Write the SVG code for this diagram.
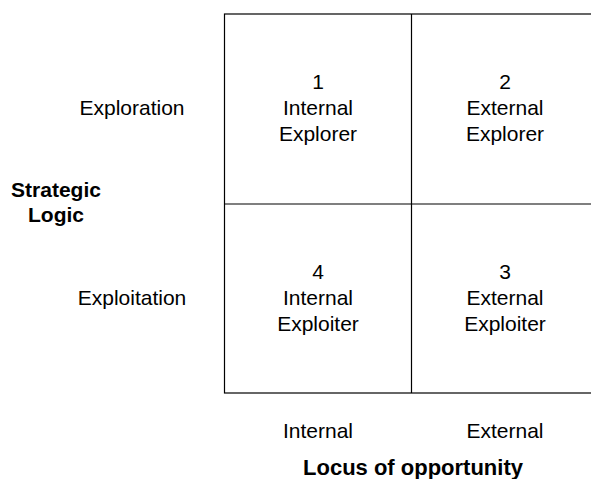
<svg xmlns="http://www.w3.org/2000/svg" width="591" height="479" viewBox="0 0 591 479">
<style>
text{font-family:"Liberation Sans",Arial,sans-serif;font-size:21px;fill:#000;text-anchor:middle}
.b{font-weight:bold}
.ln{stroke:#000;stroke-width:1.2;fill:none}
</style>
<rect width="591" height="479" fill="#fff"/>
<g id="connectors">
<rect class="ln" x="224.5" y="14" width="374" height="379"/>
<line class="ln" x1="411.5" y1="14" x2="411.5" y2="393"/>
<line class="ln" x1="224.5" y1="204" x2="598.5" y2="204"/>
</g>
<g id="q1"><text x="318" y="89">1</text><text x="318" y="115">Internal</text><text x="318" y="141">Explorer</text></g>
<g id="q2"><text x="505" y="89">2</text><text x="505" y="115">External</text><text x="505" y="141">Explorer</text></g>
<g id="q4"><text x="318" y="279">4</text><text x="318" y="305">Internal</text><text x="318" y="331">Exploiter</text></g>
<g id="q3"><text x="505" y="279">3</text><text x="505" y="305">External</text><text x="505" y="331">Exploiter</text></g>
<g id="row-labels"><text x="132" y="115">Exploration</text><text x="132" y="305">Exploitation</text></g>
<g id="y-axis"><text class="b" x="56" y="197">Strategic</text><text class="b" x="56" y="222">Logic</text></g>
<g id="col-labels"><text x="318" y="438">Internal</text><text x="505" y="438">External</text></g>
<g id="x-axis"><text class="b" x="413" y="475" style="font-size:22px">Locus of opportunity</text></g>
</svg>
